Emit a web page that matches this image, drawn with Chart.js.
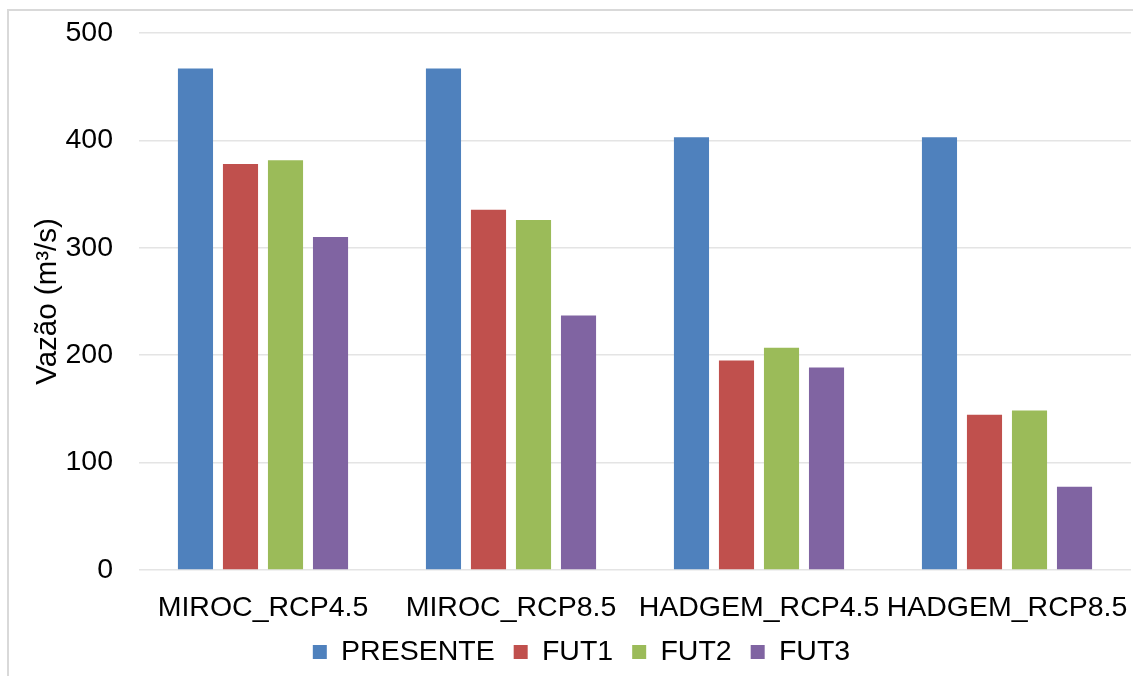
<!DOCTYPE html>
<html>
<head>
<meta charset="utf-8">
<script src="https://cdn.jsdelivr.net/npm/chart.js@4"></script>
<style>
  html, body { margin: 0; padding: 0; background: #fff; }
  #wrap { position: relative; width: 1133px; height: 676px; overflow: hidden; }
  #frame { position: absolute; left: 7px; top: 9px; width: 1200px; height: 700px; border: 2px solid #d9d9d9; box-sizing: border-box; }
  canvas { position: absolute; left: 0; top: 0; }
</style>
</head>
<body>
<div id="wrap">
  <div id="frame"></div>
  <canvas id="c" width="1133" height="680"></canvas>
</div>
<script>
const categories = ['MIROC_RCP4.5', 'MIROC_RCP8.5', 'HADGEM_RCP4.5', 'HADGEM_RCP8.5'];
const seriesNames = ['PRESENTE', 'FUT1', 'FUT2', 'FUT3'];
const presente = [467, 467, 403, 403];
const fut1 = [378, 335.5, 195, 144.5];
const fut2 = [381.5, 326, 207, 148.5];
const fut3 = [310, 237, 188.5, 77.5];
const yTicks = [0, 100, 200, 300, 400, 500];
const yTitle = 'Vazão (m³/s)';
const colors = ['#4F81BD', '#C0504D', '#9BBB59', '#8064A2'];

const FONT = "'Liberation Sans', Arial, sans-serif";
const seriesValues = [presente, fut1, fut2, fut3];

new Chart(document.getElementById('c'), {
  type: 'bar',
  data: {
    labels: categories,
    datasets: seriesNames.map((n, i) => ({
      label: n,
      data: seriesValues[i],
      backgroundColor: colors[i],
      borderWidth: 0,
      categoryPercentage: 0.726,
      barPercentage: 0.78
    }))
  },
  options: {
    responsive: false,
    animation: false,
    devicePixelRatio: 1,
    layout: { padding: { left: 32, right: 2, top: 33, bottom: 3.75 } },
    plugins: {
      tooltip: { enabled: false },
      legend: {
        position: 'bottom',
        labels: {
          color: '#000',
          font: { family: FONT, size: 28.5 },
          boxWidth: 14,
          boxHeight: 14,
          padding: 19
        }
      }
    },
    scales: {
      x: {
        grid: { display: false },
        border: { display: false },
        ticks: { color: '#000', font: { family: FONT, size: 28.5 }, padding: 13, maxRotation: 0, autoSkip: false },
        afterFit: (s) => {
          s.height = 48.75;
          s.paddingLeft = 0;
          s.paddingRight = 0;
          s._computeLabelArea = () => undefined;
        }
      },
      y: {
        min: 0, max: 500,
        afterBuildTicks: (s) => { s.ticks = yTicks.map(v => ({ value: v })); },
        grid: { color: '#e4e4e4', lineWidth: 1.5, drawTicks: false },
        border: { display: false },
        ticks: { color: '#000', font: { family: FONT, size: 28.5 }, padding: 26 },
        title: { display: true, text: yTitle, color: '#000', font: { family: FONT, size: 29.5 }, padding: { top: -2, bottom: 0 } },
        afterFit: (s) => {
          s.width = 107;
          s.paddingTop = 0;
          s.paddingBottom = 0;
        }
      }
    }
  }
});
</script>
</body>
</html>
